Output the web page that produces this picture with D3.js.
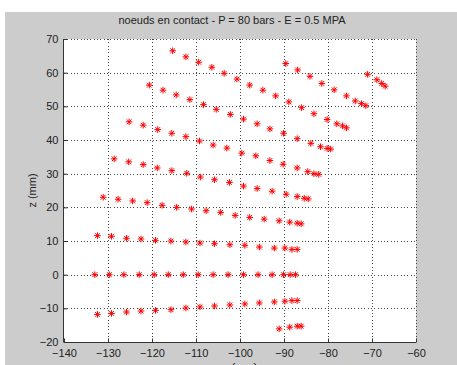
<!DOCTYPE html>
<html><head><meta charset="utf-8">
<script src="https://cdn.jsdelivr.net/npm/d3@7"></script>
<style>
html,body{margin:0;padding:0;background:#fff;}
svg{display:block;}
text{font-family:"Liberation Sans",Arial,sans-serif;fill:#222;}
</style></head>
<body>
<svg id="c" width="457" height="365"></svg>
<script>
const title = "noeuds en contact - P = 80 bars - E = 0.5 MPA";
const xLabel = "x (mm)";
const zLabel = "z (mm)";
const xTicks = [-140,-130,-120,-110,-100,-90,-80,-70,-60];
const zTicks = [-20,-10,0,10,20,30,40,50,60,70];

const row0x = [-89.6,-86.9,-84.1,-81.4,-78.6,-75.8,-73.8,-72.4,-71.4];
const row0z = [62.7,60.8,58.9,56.8,54.9,53.1,51.6,50.8,50.2];
const rowAx = [-71.0,-68.9,-67.8,-67.0];
const rowAz = [59.5,57.9,56.8,56.0];
const row1x = [-115.3,-112.3,-109.4,-106.4,-103.6,-100.7,-97.8,-94.8,-91.9,-88.9,-86.0,-83.2,-80.2,-78.0,-76.7,-75.8];
const row1z = [66.5,64.7,63.1,61.6,59.8,58.1,56.3,54.8,53.1,51.3,49.6,47.8,46.1,44.8,44.2,43.6];
const row2x = [-120.6,-117.5,-114.5,-111.4,-108.3,-105.4,-102.2,-99.2,-96.1,-93.2,-90.1,-87.0,-83.9,-81.7,-80.2,-79.4];
const row2z = [56.3,54.8,53.4,52.0,50.5,49.1,47.6,46.2,44.8,43.3,42.0,40.4,39.0,38.0,37.5,37.3];
const row3x = [-125.2,-122.0,-118.7,-115.5,-112.3,-109.2,-106.1,-103.0,-99.6,-96.4,-93.2,-90.2,-87.0,-84.6,-83.2,-82.1];
const row3z = [45.4,44.4,43.1,42.0,41.0,39.7,38.5,37.6,36.1,35.3,33.9,32.8,31.7,30.6,30.0,29.8];
const row4x = [-128.6,-125.3,-122.0,-118.8,-115.5,-112.1,-109.0,-105.8,-102.4,-99.2,-96.1,-92.7,-89.5,-87.0,-85.4,-84.5];
const row4z = [34.4,33.5,32.7,31.7,30.9,30.1,29.0,28.2,27.4,26.3,25.6,24.8,23.9,23.2,22.7,22.5];
const row5x = [-131.1,-127.7,-124.4,-121.1,-117.7,-114.4,-111.0,-107.7,-104.4,-101.1,-97.8,-94.5,-91.1,-88.7,-87.0,-86.1];
const row5z = [23.0,22.4,21.9,21.4,20.6,20.0,19.5,19.0,18.5,17.6,17.0,16.5,16.0,15.6,15.3,15.1];
const row6x = [-132.4,-129.2,-125.8,-122.5,-119.2,-115.7,-112.3,-109.1,-105.8,-102.3,-98.9,-95.6,-92.2,-89.8,-88.2,-87.0];
const row6z = [11.6,11.4,10.8,10.6,10.2,10.0,9.7,9.4,9.2,8.9,8.7,8.2,7.9,7.9,7.5,7.5];
const row7x = [-133.0,-129.7,-126.4,-122.9,-119.5,-116.3,-112.9,-109.5,-106.1,-102.7,-99.2,-95.9,-92.7,-90.1,-88.6,-87.4];
const row7z = [0,0,0,0,0,0,0,0,0,0,0,0,0,0,0,0];
const row8x = [-132.4,-129.2,-125.8,-122.5,-119.2,-115.7,-112.3,-109.1,-105.8,-102.3,-98.9,-95.6,-92.2,-89.8,-88.2,-87.0];
const row8z = [-11.8,-11.5,-11.1,-10.8,-10.6,-10.4,-9.9,-9.6,-9.3,-9.0,-8.7,-8.4,-8.1,-7.9,-7.7,-7.7];
const row9x = [-91.1,-88.7,-87.0,-86.1];
const row9z = [-16.1,-15.6,-15.3,-15.3];

const rowsX = [row0x,rowAx,row1x,row2x,row3x,row4x,row5x,row6x,row7x,row8x,row9x];
const rowsZ = [row0z,rowAz,row1z,row2z,row3z,row4z,row5z,row6z,row7z,row8z,row9z];
const points = [];
rowsX.forEach((r,i)=>r.forEach((x,j)=>points.push({x:x,z:rowsZ[i][j]})));

const svg = d3.select("#c");
const L=64,R=416,T=39,B=342;
const x = d3.scaleLinear().domain([-140,-60]).range([L,R]);
const y = d3.scaleLinear().domain([-20,70]).range([B,T]);

svg.append("rect").attr("x",5).attr("y",12).attr("width",452).attr("height",353).attr("fill","#cccccc");
svg.append("rect").attr("x",L).attr("y",T).attr("width",R-L).attr("height",B-T).attr("fill","#fff");

const grid = svg.append("g").attr("stroke","#444").attr("stroke-width",1).attr("stroke-dasharray","1,2.3").attr("shape-rendering","crispEdges");
grid.selectAll(".gx").data(xTicks.slice(1)).enter().append("line")
  .attr("x1",d=>Math.round(x(d))+0.5).attr("x2",d=>Math.round(x(d))+0.5).attr("y1",T).attr("y2",B);
grid.selectAll(".gy").data(zTicks.slice(1)).enter().append("line")
  .attr("y1",d=>Math.round(y(d))+0.5).attr("y2",d=>Math.round(y(d))+0.5).attr("x1",L).attr("x2",R);

const xAxis = d3.axisBottom(x).tickValues(xTicks).tickSize(-4).tickPadding(8).tickFormat(d3.format("d"));
const yAxis = d3.axisLeft(y).tickValues(zTicks).tickSize(-4).tickPadding(8).tickFormat(d3.format("d"));
const gx = svg.append("g").attr("transform",`translate(0,${B+0.5})`).call(xAxis);
const gy = svg.append("g").attr("transform",`translate(${L-0.5},0)`).call(yAxis);
[gx,gy].forEach(g=>{
  g.select(".domain").attr("stroke","#333").attr("d", g===gx ? `M${L},0H${R}` : `M0,${T}V${B}`);
  g.selectAll(".tick line").attr("stroke","#333");
  g.selectAll("text").attr("font-size",11).attr("fill","#222").style("font-family","'Liberation Sans',Arial,sans-serif");
});
gx.selectAll("text").attr("dy","0.71em").attr("y",7);
gy.selectAll("text").attr("x",-5);

svg.append("text").attr("x",232).attr("y",24).attr("text-anchor","middle").attr("font-size",11).text(title);
svg.append("text").attr("x",240).attr("y",371).attr("text-anchor","middle").attr("font-size",11).text(xLabel);
svg.append("text").attr("transform",`translate(36,${(T+B)/2}) rotate(-90)`).attr("text-anchor","middle").attr("font-size",11).text(zLabel);

const s=3.3, d2=2.4;
const star = `M${-s},0H${s}M0,${-s}V${s}M${-d2},${-d2}L${d2},${d2}M${-d2},${d2}L${d2},${-d2}`;
svg.append("g").selectAll("path").data(points).enter().append("path")
  .attr("transform",d=>`translate(${x(d.x)},${y(d.z)})`)
  .attr("d",star).attr("fill","none").attr("stroke","#ff0000").attr("stroke-width",1);
</script>
</body></html>
